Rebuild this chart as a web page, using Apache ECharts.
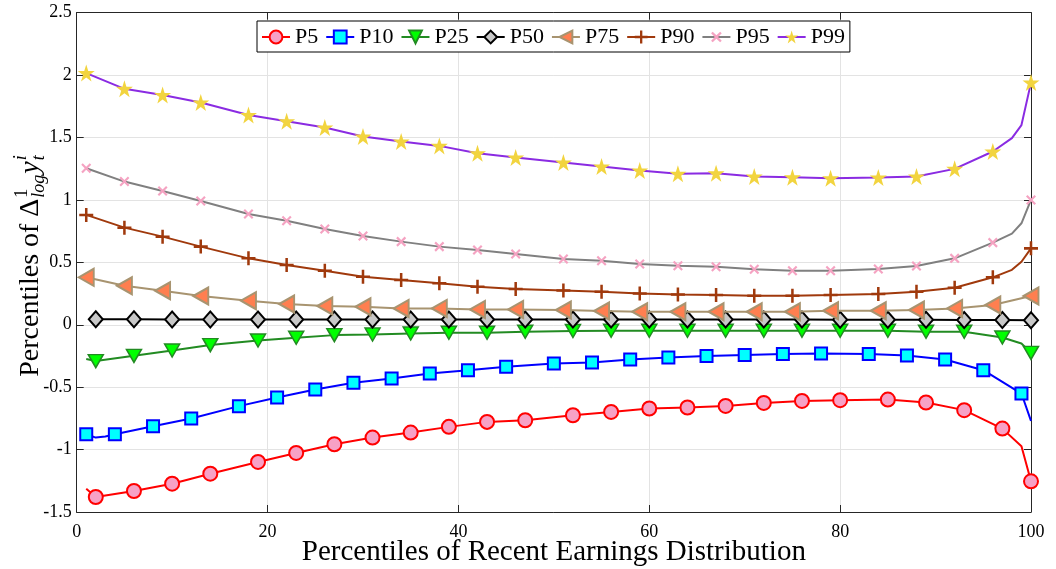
<!DOCTYPE html>
<html><head><meta charset="utf-8">
<script src="https://cdn.jsdelivr.net/npm/echarts@6/dist/echarts.min.js"></script>
<style>html,body{margin:0;padding:0;background:#fff}#c{width:1056px;height:569px}</style>
</head><body><div id="c"></div><script>
// ---- data ----
const SERIES_NAMES = ['P5','P10','P25','P50','P75','P90','P95','P99'];
const X_AXIS_TITLE = 'Percentiles of Recent Earnings Distribution';

const MX_A = [1,5,9,13,18,22,26,30,34,38,42,46,51,55,59,63,67,71,75,79,84,88,92,96,100];
const MX_B = [2,6,10,14,19,23,27,31,35,39,43,47,52,56,60,64,68,72,76,80,85,89,93,97,100];
const MX_C = [1,4,8,12,17,21,25,29,33,37,41,45,50,54,58,62,66,70,74,78,83,87,91,95,99];

const P5_X = MX_B;
const P5_Y = [-1.380,-1.332,-1.273,-1.193,-1.099,-1.027,-0.957,-0.904,-0.864,-0.818,-0.778,-0.765,-0.725,-0.698,-0.671,-0.663,-0.650,-0.626,-0.610,-0.604,-0.599,-0.623,-0.684,-0.832,-1.254];
const P5_LINE = [[1,-1.313],[99,-0.973]];

const P10_X = MX_C;
const P10_Y = [-0.877,-0.877,-0.813,-0.751,-0.652,-0.583,-0.519,-0.465,-0.430,-0.390,-0.364,-0.337,-0.310,-0.302,-0.278,-0.262,-0.251,-0.243,-0.235,-0.230,-0.235,-0.246,-0.278,-0.364,-0.551];
const P10_LINE = [[2,-0.904],[3,-0.895],[100,-0.77]];

const P25_X = MX_B;
const P25_Y = [-0.291,-0.249,-0.206,-0.163,-0.126,-0.104,-0.083,-0.078,-0.070,-0.064,-0.064,-0.056,-0.050,-0.048,-0.048,-0.048,-0.048,-0.048,-0.048,-0.048,-0.048,-0.056,-0.056,-0.102,-0.225];
const P25_LINE = [[1,-0.275],[99,-0.15]];

const P50_X = MX_B;
const P50_Y = [0.044,0.044,0.043,0.043,0.043,0.043,0.043,0.043,0.043,0.043,0.043,0.043,0.043,0.043,0.043,0.042,0.042,0.042,0.042,0.040,0.040,0.040,0.039,0.038,0.036];
const P50_LINE = [];

const P75_X = MX_A;
const P75_Y = [0.380,0.313,0.273,0.230,0.193,0.166,0.150,0.144,0.131,0.131,0.123,0.123,0.118,0.110,0.104,0.104,0.104,0.104,0.104,0.112,0.112,0.118,0.131,0.158,0.230];
const P75_LINE = [];

const P90_X = MX_A;
const P90_Y = [0.880,0.778,0.706,0.626,0.532,0.479,0.433,0.385,0.358,0.332,0.305,0.286,0.275,0.265,0.251,0.243,0.238,0.233,0.233,0.238,0.246,0.265,0.297,0.380,0.612];
const P90_LINE = [[98,0.44],[99,0.505]];

const P95_X = MX_A;
const P95_Y = [1.254,1.147,1.072,0.992,0.888,0.834,0.767,0.711,0.666,0.626,0.599,0.567,0.527,0.513,0.487,0.473,0.465,0.444,0.433,0.433,0.447,0.471,0.532,0.658,1.000];
const P95_LINE = [[98,0.73],[99,0.813]];

const P99_X = MX_A;
const P99_Y = [2.016,1.890,1.840,1.780,1.680,1.630,1.580,1.508,1.468,1.433,1.374,1.340,1.300,1.267,1.235,1.209,1.214,1.187,1.182,1.174,1.179,1.187,1.249,1.388,1.940];
const P99_LINE = [[98,1.495],[99,1.60]];

// ---- build ----
function build(xs, ys, extra) {
  const pts = xs.map((x, i) => ({ value: [x, ys[i]] }));
  extra.forEach(p => pts.push({ value: [p[0], p[1]], symbol: 'none' }));
  pts.sort((a, b) => a.value[0] - b.value[0]);
  return pts;
}
const STAR = 'path://M50,0 L61.2,34.5 L97.6,34.5 L68.2,55.9 L79.4,90.5 L50,69.1 L20.6,90.5 L31.8,55.9 L2.4,34.5 L38.8,34.5 Z';
const PLUS = 'path://M4.1,0 H5.9 V4.1 H10 V5.9 H5.9 V10 H4.1 V5.9 H0 V4.1 H4.1 Z';

const styles = [
  { line: '#ff0000', sym: 'circle', size: 14, fill: '#f7a1c6', border: '#ff0000', bw: 2 },
  { line: '#0000ff', sym: 'rect', size: 12, fill: '#00ffff', border: '#0000ff', bw: 2 },
  { line: '#228b22', sym: 'triangle', size: [15, 13], rot: 180, fill: '#00ff00', border: '#228b22', bw: 1.5 },
  { line: '#000000', sym: 'diamond', size: [14, 16], fill: '#c8c8c8', border: '#000000', bw: 2 },
  { line: '#a89470', sym: 'triangle', size: [17, 15], rot: 90, fill: '#ff7f50', border: '#a89470', bw: 2 },
  { line: '#a0390c', sym: PLUS, size: 14, fill: '#a0390c', border: '#a0390c', bw: 0 },
  { line: '#808080', sym: PLUS, size: 12, rot: 45, fill: '#f5a3c2', border: '#f5a3c2', bw: 0 },
  { line: '#8a2be2', sym: STAR, size: 17, fill: '#f2d43f', border: '#f2d43f', bw: 0 }
];
const datas = [
  build(P5_X, P5_Y, P5_LINE), build(P10_X, P10_Y, P10_LINE), build(P25_X, P25_Y, P25_LINE),
  build(P50_X, P50_Y, P50_LINE), build(P75_X, P75_Y, P75_LINE), build(P90_X, P90_Y, P90_LINE),
  build(P95_X, P95_Y, P95_LINE), build(P99_X, P99_Y, P99_LINE)
];

const series = SERIES_NAMES.map((n, i) => {
  const s = styles[i];
  return {
    name: n, type: 'line', data: datas[i], xAxisIndex: 0, yAxisIndex: 0,
    symbol: s.sym, symbolSize: s.size, symbolRotate: s.rot || 0,
    showAllSymbol: true, animation: false, z: 2 + i,
    lineStyle: { color: s.line, width: 2 },
    itemStyle: { color: s.fill, borderColor: s.border, borderWidth: s.bw, opacity: 1 },
    emphasis: { disabled: true }
  };
});

const SERIF = '"Liberation Serif", "Times New Roman", serif';
const AX = '#262626';

// y-axis title built from text pieces
const cv = document.createElement('canvas').getContext('2d');
function tw(t, size, it) { cv.font = (it ? 'italic ' : '') + size + 'px "Liberation Serif"'; return cv.measureText(t).width; }
const BIG = 28, SM = 18;
const yTitleParts = [];
let cx = 0;
function piece(t, size, it, dx, dy) {
  yTitleParts.push({ type: 'text', x: cx + dx, y: dy, silent: true,
    style: { text: t, font: (it ? 'italic ' : '') + size + 'px ' + SERIF, fill: '#000',
      align: 'left', verticalAlign: 'middle', textAlign: 'left', textVerticalAlign: 'middle' } });
}
piece('Percentiles of ', BIG, false, 0, 0); cx += tw('Percentiles of ', BIG, false);
piece('\u0394', BIG, false, 0, 0); cx += tw('\u0394', BIG, false) + 1;
piece('1', SM, false, 0, -9); piece('log', SM, true, 0, 8);
cx += Math.max(tw('1', SM, false), tw('log', SM, true)) + 1;
piece('y', BIG, true, 0, 0); cx += tw('y', BIG, true) + 1;
piece('i', SM, true, 0, -10); piece('t', SM, true, 0, 8);
cx += tw('t', SM, true);
const yTitleLen = cx;

const chart = echarts.init(document.getElementById('c'), null, { renderer: 'canvas' });
chart.setOption({
  animation: false,
  backgroundColor: '#ffffff',
  grid: { left: 76.7, right: 25, top: 12.7, bottom: 57, containLabel: false, outerBoundsMode: 'none' },
  legend: {
    data: SERIES_NAMES, left: 257, top: 21, orient: 'horizontal',
    itemWidth: 28, itemHeight: 16, itemGap: 7,
    padding: [5, 5, 4, 4], backgroundColor: '#fff', borderColor: '#000', borderWidth: 1,
    textStyle: { fontFamily: SERIF, fontSize: 22, color: '#000', lineHeight: 20 },
    selectedMode: false
  },
  xAxis: [{
    type: 'value', min: 0, max: 100, interval: 20, position: 'bottom',
    name: X_AXIS_TITLE, nameLocation: 'middle', nameGap: 26, nameMoveOverlap: false,
    nameTextStyle: { fontFamily: SERIF, fontSize: 29, color: '#000' },
    axisLine: { show: true, onZero: false, lineStyle: { color: AX, width: 1 } },
    axisTick: { show: true, inside: true, length: 7, lineStyle: { color: AX } },
    axisLabel: { fontFamily: SERIF, fontSize: 18, color: '#000', margin: 11 },
    splitLine: { show: true, lineStyle: { color: '#e3e3e3', width: 1 } }
  }, {
    type: 'value', min: 0, max: 100, interval: 20, position: 'top',
    axisLine: { show: true, onZero: false, lineStyle: { color: AX, width: 1 } },
    axisTick: { show: true, inside: true, length: 7, lineStyle: { color: AX } },
    axisLabel: { show: false }, splitLine: { show: false }
  }],
  yAxis: [{
    type: 'value', min: -1.5, max: 2.5, interval: 0.5, position: 'left',
    axisLine: { show: true, onZero: false, lineStyle: { color: AX, width: 1 } },
    axisTick: { show: true, inside: true, length: 7, lineStyle: { color: AX } },
    axisLabel: { fontFamily: SERIF, fontSize: 18, color: '#000', margin: 5 },
    splitLine: { show: true, lineStyle: { color: '#e3e3e3', width: 1 } }
  }, {
    type: 'value', min: -1.5, max: 2.5, interval: 0.5, position: 'right',
    axisLine: { show: true, onZero: false, lineStyle: { color: AX, width: 1 } },
    axisTick: { show: true, inside: true, length: 7, lineStyle: { color: AX } },
    axisLabel: { show: false }, splitLine: { show: false }
  }],
  graphic: [{
    type: 'group', x: 31, y: 266 + yTitleLen / 2, rotation: Math.PI / 2, silent: true,
    children: yTitleParts
  }],
  series: series
});
</script></body></html>
